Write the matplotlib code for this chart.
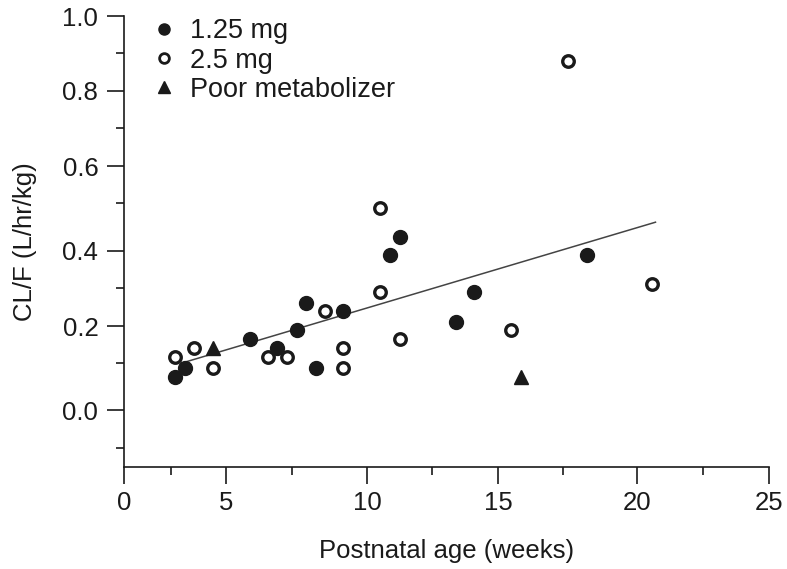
import numpy as np
import matplotlib
matplotlib.use("Agg")
import matplotlib.pyplot as plt
from matplotlib.lines import Line2D

plt.rcParams['font.family'] = ['Liberation Sans', 'DejaVu Sans']

# CL/F against postnatal age
age_125 = [2.7, 3.15, 5.9, 6.95, 7.65, 7.95, 8.3, 9.2, 10.87, 11.25, 13.4, 14.1, 18.3]
clf_125 = [0.07, 0.09, 0.165, 0.14, 0.19, 0.26, 0.09, 0.24, 0.39, 0.43, 0.21, 0.29, 0.39]

age_25 = [2.7, 3.55, 4.4, 6.6, 7.3, 8.6, 9.2, 9.2, 10.5, 10.5, 11.25, 15.5, 17.66, 20.55]
clf_25 = [0.115, 0.14, 0.09, 0.115, 0.115, 0.24, 0.14, 0.09, 0.29, 0.49, 0.165, 0.19, 0.88, 0.31]

age_poor = [4.4, 15.9]
clf_poor = [0.14, 0.07]

# regression line end points
fit_age = [3.0, 20.7]
fit_clf = [0.10, 0.46]

x_ticks = [0, 5, 10, 15, 20, 25]
y_ticks = [0.0, 0.2, 0.4, 0.6, 0.8, 1.0]

# the printed axes are not evenly spaced, so follow where the ticks sit
x_knots = [0, 2.5, 5, 7.5, 10, 12.5, 15, 17.5, 20, 22.5, 25]
x_pix = [124, 171, 226, 292, 367, 432, 498, 563, 637, 703, 769]
y_knots = [-0.15, -0.1, 0.0, 0.1, 0.2, 0.3, 0.4, 0.5, 0.6, 0.7, 0.8, 0.9, 1.0]
y_pix = [-467, -448, -410, -363, -326, -288, -251, -203, -166, -128, -91, -53, -16]


def make_scale(knots, pix):
    def fwd(v):
        return np.interp(v, knots, pix)

    def inv(p):
        return np.interp(p, pix, knots)
    return fwd, inv


ink = '#1a1a1a'
W, H = 787, 569
fig = plt.figure(figsize=(W / 100, H / 100), dpi=100)
ax = fig.add_axes([124 / W, 1 - 467 / H, (769 - 124) / W, (467 - 16) / H])

ax.set_xscale('function', functions=make_scale(x_knots, x_pix))
ax.set_yscale('function', functions=make_scale(y_knots, y_pix))

ax.plot(fit_age, fit_clf, color='#444444', lw=1.1, zorder=1)
ax.plot(age_125, clf_125, 'o', ms=10, color=ink, mec=ink, zorder=3)
ax.plot(age_25, clf_25, 'o', ms=8.3, mfc='white', mec=ink, mew=2.4, zorder=3)
ax.plot(age_poor, clf_poor, '^', ms=10, color=ink, zorder=3)

ax.set_xlim(0, 25)
ax.set_ylim(-0.15, 1.0)
ax.set_xticks(x_ticks)
ax.set_xticks([2.5, 7.5, 12.5, 17.5, 22.5], minor=True)
ax.set_yticks(y_ticks)
ax.set_yticks([-0.1, 0.1, 0.3, 0.5, 0.7, 0.9], minor=True)
ax.set_xticklabels([str(t) for t in x_ticks])
ax.set_yticklabels(['%.1f' % t for t in y_ticks])

for s in ['top', 'right']:
    ax.spines[s].set_visible(False)
for s in ['left', 'bottom']:
    ax.spines[s].set_linewidth(1.2)
    ax.spines[s].set_color(ink)
ax.tick_params(which='major', length=12.5, width=1.2, color=ink,
               labelsize=18.5, labelcolor=ink)
ax.tick_params(which='minor', length=6, width=1.2, color=ink)
ax.tick_params(axis='x', pad=5)
ax.tick_params(axis='y', pad=6)

ax.set_xlabel('Postnatal age (weeks)', fontsize=18.5, color=ink, labelpad=17)
ax.set_ylabel('CL/F (L/hr/kg)', fontsize=18.5, color=ink, labelpad=18)

handles = [
    Line2D([], [], ls='none', marker='o', ms=8, color=ink),
    Line2D([], [], ls='none', marker='o', ms=7, mfc='white', mec=ink, mew=2),
    Line2D([], [], ls='none', marker='^', ms=8, color=ink),
]
ax.legend(handles, ['1.25 mg', '2.5 mg', 'Poor metabolizer'], loc='upper left',
          bbox_to_anchor=(0.045, 0.995), frameon=False, fontsize=19.5,
          handlelength=0.8, handletextpad=0.55, labelspacing=0.12,
          borderpad=0, borderaxespad=0, labelcolor=ink)

fig.savefig('out.png', dpi=100)
